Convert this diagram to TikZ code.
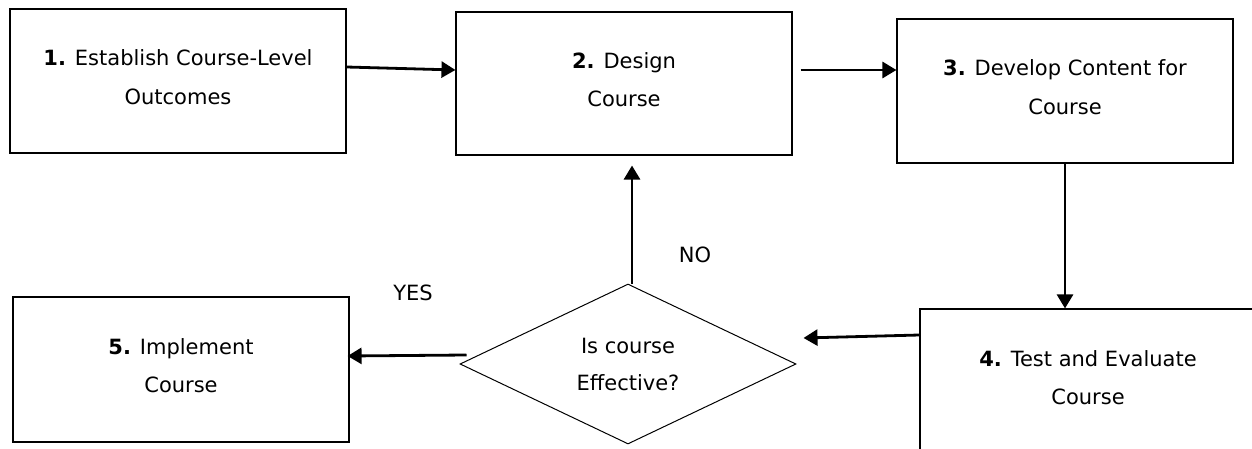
\documentclass[tikz,border=0pt]{standalone}
\usepackage{fontspec}
\setmainfont{DejaVu Sans}
\usetikzlibrary{arrows.meta,shapes.geometric}
\begin{document}
\begin{tikzpicture}[x=1pt,y=-1pt,
  box/.style={draw, line width=1.1pt, minimum width=336pt, inner sep=0pt,
    align=center, text depth=8pt, font=\fontsize{21}{38.5}\selectfont},
  dec/.style={draw, diamond, aspect=2.1, line width=1pt, minimum width=336pt,
    minimum height=160pt, inner sep=0pt, align=center, font=\fontsize{21}{37}\selectfont},
  conn/.style={line width=2.8pt, -{Triangle[length=14pt,width=16pt]}},
  lbl/.style={font=\fontsize{21}{25}\selectfont}]
\useasboundingbox (0,0) rectangle (1252,449);
\node[box, minimum height=144pt] (b1) at (178,81) {\textbf{1.} Establish Course-Level\\Outcomes};
\node[box, minimum height=143pt] (b2) at (624,83.5) {\textbf{2.} Design\\Course};
\node[box, minimum height=144pt] (b3) at (1065,91) {\textbf{3.} Develop Content for\\Course};
\node[box, minimum height=145pt] (b4) at (1088,381.5) {\textbf{4.} Test and Evaluate\\Course};
\node[box, minimum height=145pt] (b5) at (181,369.5) {\textbf{5.} Implement\\Course};
\node[dec] (d) at (628,364) {Is course\\Effective?};
\node[lbl] (yes) at (413,293) {YES};
\node[lbl] (no) at (695,255) {NO};
\draw[conn] ([yshift=14pt]b1.east) -- ([yshift=13.5pt]b2.west);
\draw[conn] ([xshift=8pt,yshift=13.5pt]b2.east) -- ([yshift=21pt]b3.west);
\draw[conn] (b3.south) -- (b3.south |- b4.north);
\draw[conn] ([yshift=46.5pt]b4.west) -- ([xshift=7pt,yshift=26pt]d.east);
\draw[conn] ([xshift=4pt]d.north) -- ([xshift=8pt,yshift=-10pt]b2.south);
\draw[conn] ([xshift=7pt,yshift=9pt]d.west) -- ([xshift=-2pt,yshift=13.5pt]b5.east);
\end{tikzpicture}
\end{document}
